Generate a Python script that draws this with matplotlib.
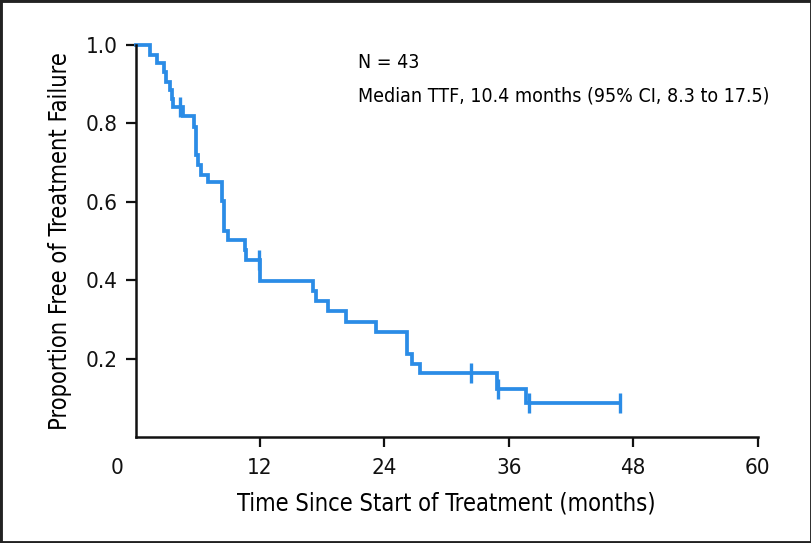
import matplotlib
matplotlib.use("Agg")
from matplotlib import pyplot as plt
from matplotlib import transforms, patches
from matplotlib import font_manager

# step times (months) and survival level after each drop
times = [0, 1.4, 2.1, 2.7, 2.9, 3.3, 3.5, 3.6, 4.55, 5.6, 5.8, 6.05, 6.3, 7.0,
         8.3, 8.5, 8.95, 10.6, 10.7, 12.0, 17.1, 17.4, 18.6, 20.3, 23.2,
         26.15, 26.7, 27.4, 34.9, 37.7]
surv = [1.0, 0.975, 0.953, 0.932, 0.907, 0.885, 0.863, 0.843, 0.818, 0.792,
        0.720, 0.695, 0.669, 0.652, 0.601, 0.525, 0.502, 0.478, 0.451, 0.398,
        0.372, 0.347, 0.321, 0.293, 0.268, 0.211, 0.186, 0.163, 0.124, 0.086]
last_time = 46.7

# censored observations
censor_t = [4.3, 11.9, 32.4, 35.0, 38.0, 46.7]
censor_s = [0.843, 0.451, 0.163, 0.124, 0.086, 0.086]

xticks = [0, 12, 24, 36, 48, 60]
yticks = [0.2, 0.4, 0.6, 0.8, 1.0]

names = sorted({f.name + " / " + str(f.stretch) for f in font_manager.fontManager.ttflist})
print(names)

plt.rcParams['font.family'] = ['DejaVu Sans']
plt.rcParams['font.stretch'] = 'condensed'

blue = '#2b8ce6'

fig = plt.figure(figsize=(8.12, 5.43), dpi=100)
ax = fig.add_axes([0.1669, 0.195, 0.766, 0.722])

ax.step(times + [last_time], surv + [surv[-1]], where='post', color=blue,
        lw=2.7, clip_on=False, solid_joinstyle='miter')
ax.plot(censor_t, censor_s, ls='none', marker='|', ms=14, mew=2.4,
        color=blue, clip_on=False)

ax.set_xlim(0, 60)
ax.set_ylim(0, 1.0)
ax.set_xticks(xticks)
ax.set_xticklabels([str(t) for t in xticks])
ax.set_yticks(yticks)
ax.set_yticklabels([f"{v:.1f}" for v in yticks])

for s in ['top', 'right']:
    ax.spines[s].set_visible(False)
for s in ['left', 'bottom']:
    ax.spines[s].set_linewidth(1.8)
    ax.spines[s].set_color('#111111')

ax.tick_params(axis='both', direction='out', length=7, width=1.6,
               labelsize=16, colors='#111111', pad=6)
ax.tick_params(axis='x', pad=8)

# zero label sits left of the origin, without a tick mark
first = ax.xaxis.get_major_ticks()[0]
first.tick1line.set_visible(False)
off = transforms.ScaledTranslation(-0.18, 0, fig.dpi_scale_trans)
first.label1.set_transform(first.label1.get_transform() + off)

ax.set_xlabel("Time Since Start of Treatment (months)", fontsize=17,
              labelpad=10)
ax.set_ylabel("Proportion Free of Treatment Failure", fontsize=17,
              labelpad=10)

ax.text(0.357, 0.955, "N = 43", transform=ax.transAxes, fontsize=14,
        va='center')
ax.text(0.357, 0.87, "Median TTF, 10.4 months (95% CI, 8.3 to 17.5)",
        transform=ax.transAxes, fontsize=14, va='center')

# frame around the whole picture
fig.patches.append(patches.Rectangle((0, 0), 1, 1, transform=fig.transFigure,
                                     fill=False, lw=3.5, edgecolor='#222222'))

fig.savefig("out.png", dpi=100)
